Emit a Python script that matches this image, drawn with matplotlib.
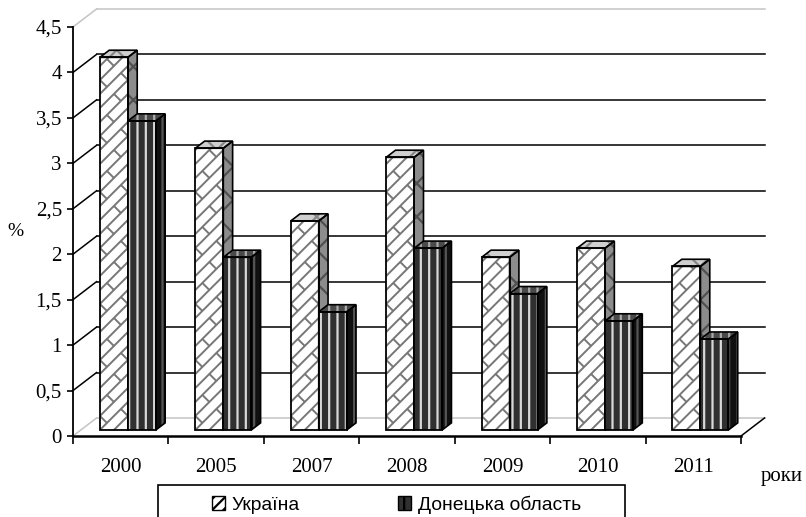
import numpy as np
import matplotlib
matplotlib.use('Agg')
import matplotlib.pyplot as plt
from matplotlib.collections import LineCollection
from matplotlib.patches import Polygon, Rectangle, Patch

years = ['2000', '2005', '2007', '2008', '2009', '2010', '2011']
ukraine = [4.1, 3.1, 2.3, 3.0, 1.9, 2.0, 1.8]
donetsk = [3.4, 1.9, 1.3, 2.0, 1.5, 1.2, 1.0]
y_ticks = [0, 0.5, 1, 1.5, 2, 2.5, 3, 3.5, 4, 4.5]
y_labels = ['0', '0,5', '1', '1,5', '2', '2,5', '3', '3,5', '4', '4,5']

W, H = 806, 517
LEFT, RIGHT, TOP, BOTTOM = 73, 741, 27, 436
# depth of the 3d box, in data units
DX = 23.5 / ((RIGHT - LEFT) / 7)
DY = 18 / ((BOTTOM - TOP) / 4.5)
D0, D1 = 1 / 3, 0.73
BAR_OFF, BAR_W = 0.2, 0.293

plt.rcParams['hatch.linewidth'] = 1.6
serif = 'Liberation Serif'
sans = 'Liberation Sans'

fig = plt.figure(figsize=(W / 100, H / 100), dpi=100)
ax = fig.add_axes([LEFT / W, 1 - BOTTOM / H, (RIGHT - LEFT) / W, (BOTTOM - TOP) / H])
ax.set_xlim(0, 7)
ax.set_ylim(0, 4.5)
ax.spines['top'].set_visible(False)
ax.spines['right'].set_visible(False)
ax.spines['left'].set_linewidth(1.3)
ax.spines['bottom'].set_linewidth(1.8)

# back wall and side wall
for v in y_ticks:
    col = '#c4c4c4' if v in (0, 4.5) else 'black'
    ax.plot([DX, 7 + DX], [v + DY, v + DY], color=col, lw=1.1, clip_on=False, zorder=1)
    ax.plot([0, DX], [v, v + DY], color=col, lw=1.1, clip_on=False, zorder=1)
ax.plot([7, 7 + DX], [0, DY], color='black', lw=1.1, clip_on=False, zorder=1)

ax.set_yticks(y_ticks)
ax.set_yticklabels(y_labels, fontsize=15, family=serif)
ax.tick_params(axis='y', length=4, width=1.2, pad=4)
ax.set_xticks(range(8))
ax.set_xticklabels([])
ax.tick_params(axis='x', which='major', length=6, width=1.2)
ax.set_xticks(np.arange(7) + 0.5, minor=True)
ax.set_xticklabels(years, minor=True, fontsize=15, family=serif)
ax.tick_params(axis='x', which='minor', length=0, pad=16)


def brick_lines(x0, x1, y0, y1, step=14):
    # diagonal brick texture, worked out in pixels then moved to data units
    sx = (RIGHT - LEFT) / 7
    sy = (BOTTOM - TOP) / 4.5
    w = (x1 - x0) * sx
    h = (y1 - y0) * sy
    segs = []
    for k, b in enumerate(np.arange(-w - step, h + step, step)):
        segs.append([(0, b), (w, b + w)])
        # each row of joints sits half a brick along from the row below
        off = (-1.5 * k * step) % (2 * step)
        for t in np.arange(-2 * step, w + step, 2 * step):
            px = t + off
            segs.append([(px, px + b), (px + step / 2, px + b - step / 2)])
    return [[(x0 + a / sx, y0 + c / sy) for a, c in seg] for seg in segs]


def draw_bar(x, val, front, side, top, hatch, front_col, side_col, top_col, z, brick=False):
    xf = x + D0 * DX
    base = D0 * DY
    ddx = (D1 - D0) * DX
    ddy = (D1 - D0) * DY
    x1 = xf + BAR_W
    y1 = base + val
    side_pts = [(x1, base), (x1 + ddx, base + ddy), (x1 + ddx, y1 + ddy), (x1, y1)]
    top_pts = [(xf, y1), (x1, y1), (x1 + ddx, y1 + ddy), (xf + ddx, y1 + ddy)]
    ax.add_patch(Polygon(side_pts, facecolor=side, edgecolor=side_col, hatch=hatch, lw=0, clip_on=False, zorder=z))
    ax.add_patch(Polygon(side_pts, fill=False, edgecolor='black', lw=1.2, clip_on=False, zorder=z + 0.1))
    ax.add_patch(Polygon(top_pts, facecolor=top, edgecolor=top_col, hatch=hatch, lw=0, clip_on=False, zorder=z))
    ax.add_patch(Polygon(top_pts, fill=False, edgecolor='black', lw=1.2, clip_on=False, zorder=z + 0.1))
    if brick:
        ax.bar(xf, val, BAR_W, bottom=base, align='edge', color=front, clip_on=False, zorder=z)
        clip = Rectangle((xf, base), BAR_W, val, transform=ax.transData)
        lc = LineCollection(brick_lines(xf, x1, base, y1), colors=front_col, linewidths=1.4, zorder=z + 0.05)
        ax.add_collection(lc, autolim=False)
        lc.set_clip_path(clip)
    else:
        ax.bar(xf, val, BAR_W, bottom=base, align='edge', color=front, edgecolor=front_col,
               hatch=hatch, lw=0, clip_on=False, zorder=z)
    ax.add_patch(Rectangle((xf, base), BAR_W, val, fill=False, edgecolor='black', lw=1.3,
                           clip_on=False, zorder=z + 0.1))


for i in range(len(years)):
    draw_bar(i + BAR_OFF, ukraine[i], 'white', '#8c8c8c', '#cfcfcf', 'x',
             '#777777', '#505050', '#888888', 3 + i, brick=True)
    draw_bar(i + BAR_OFF + BAR_W, donetsk[i], '#303030', '#101010', '#4a4a4a', '||',
             '#d8d8d8', '#555555', '#aaaaaa', 3.5 + i)

fig.text(15 / W, 1 - 231 / H, '%', fontsize=14, family=serif, ha='center', va='center')
fig.text(782 / W, 1 - 476 / H, 'роки', fontsize=15, family=serif, ha='center', va='center')

# legend box runs past the bottom edge of the picture
fig.add_artist(Rectangle((158 / W, 1 - 525 / H), 467 / W, 40 / H, transform=fig.transFigure,
                         facecolor='white', edgecolor='black', lw=1.2, zorder=2))
handles = [Patch(facecolor='white', edgecolor='black', hatch='///', label='Україна'),
           Patch(facecolor='#303030', edgecolor='black', hatch='||', label='Донецька область')]
leg = fig.legend(handles=handles, loc='center left', bbox_to_anchor=(212 / W, 1 - 504.5 / H),
                 ncol=2, prop={'family': sans, 'size': 13.9}, frameon=False, borderaxespad=0,
                 borderpad=0, handlelength=0.68, handleheight=0.68, handletextpad=0.32,
                 columnspacing=5.12)
leg.set_zorder(3)

fig.savefig('out.png', dpi=100)
